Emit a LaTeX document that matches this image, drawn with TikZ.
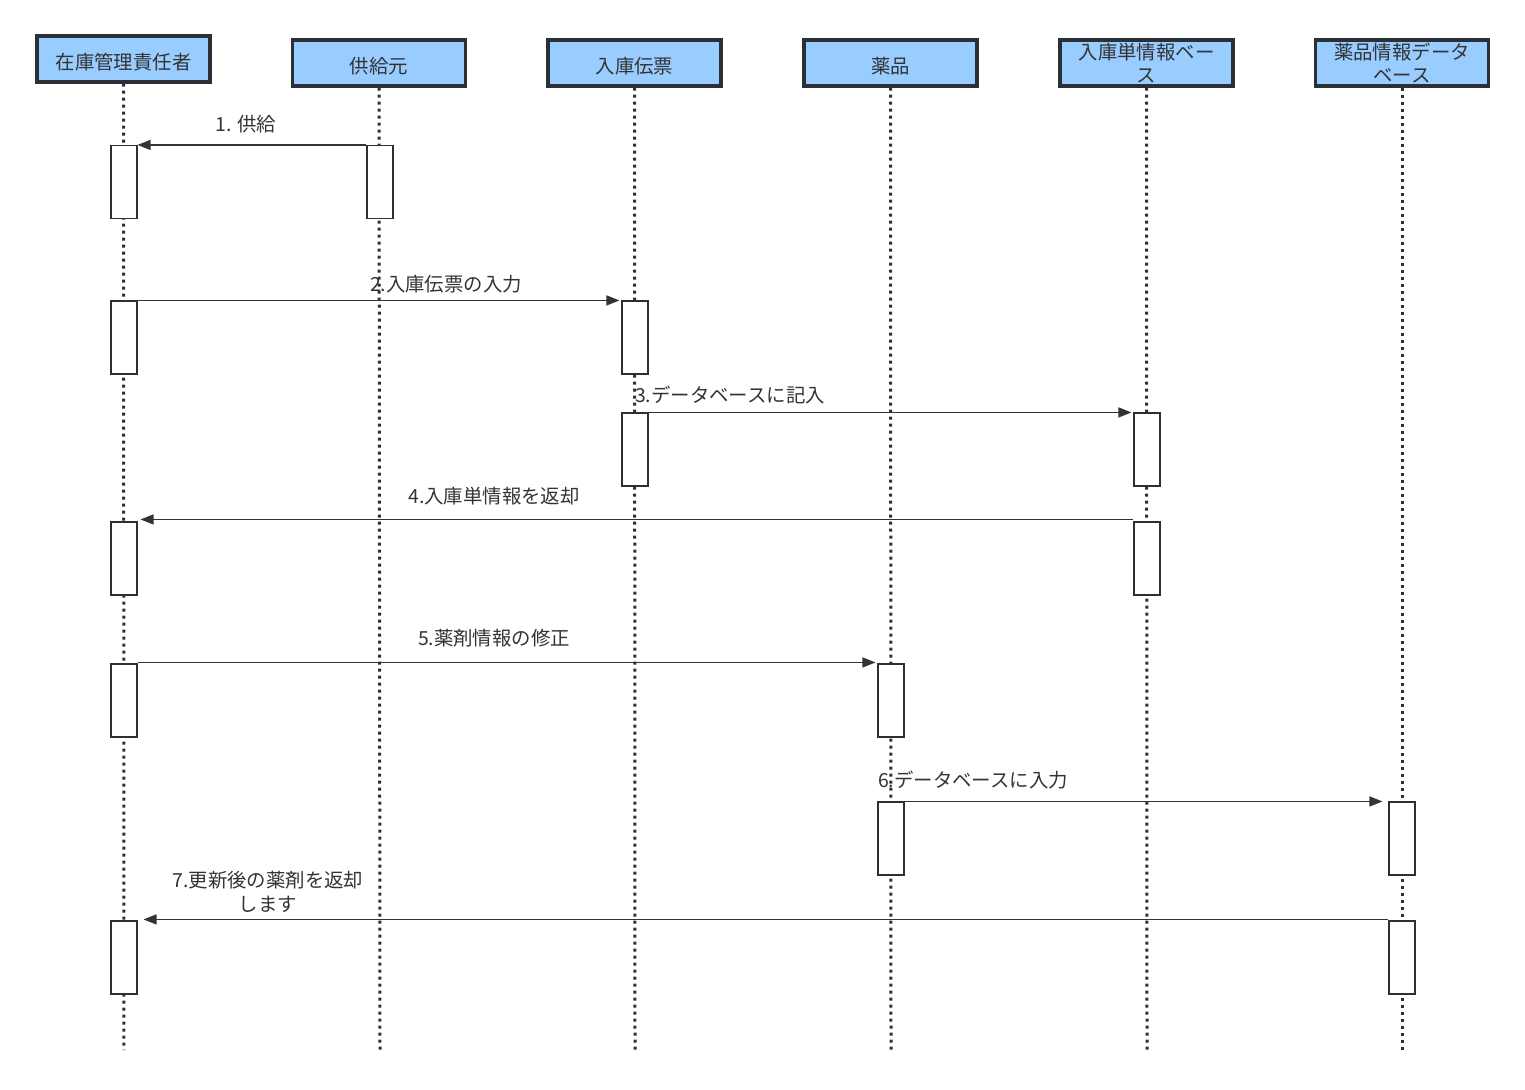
\documentclass[tikz,border=0pt]{standalone}
\usepackage{fontspec}
\setmainfont{Noto Sans CJK JP}
\usepackage{tikz}
\usetikzlibrary{arrows.meta}
\definecolor{headfill}{HTML}{99CCFF}
\definecolor{edge}{HTML}{2B3036}
\definecolor{ink}{HTML}{333333}
\newcommand{\lowhd}[1]{\raisebox{-1.5pt}[\height][\depth]{#1}}

\begin{document}
\begin{tikzpicture}[x=0.5pt,y=-0.5pt,
  hd/.style={draw=edge, line width=1.6pt, fill=headfill,
             minimum width=86.5pt, minimum height=23pt, inner sep=1pt,
             text width=82pt, align=center, text=ink,
             font=\fontsize{9.7}{11.2}\selectfont},
  act/.style={draw=edge, line width=0.55pt, fill=white,
              minimum width=13pt, minimum height=36.5pt, inner sep=0pt},
  life/.style={draw=edge, line width=1.5pt, dash pattern=on 1.5pt off 2pt},
  msg/.style={-{Triangle[length=6.5pt,width=5pt]}, line width=0.7pt,
              color=ink},
  lbl/.style={text=ink, align=center, inner sep=0pt,
              font=\fontsize{9.7}{12}\selectfont}]
  \useasboundingbox (0,0) rectangle (1525,1090);

  % heads
  \node[hd] (mgr)    at (123.5,59) {\lowhd{在庫管理責任者}};
  \node[hd] (sup)    at (379,63)   {\lowhd{供給元}};
  \node[hd] (slip)   at (634.5,63) {\lowhd{入庫伝票}};
  \node[hd] (drug)   at (890.5,63) {\lowhd{薬品}};
  \node[hd] (indb)   at (1146.5,63) {入庫単情報ベー\\ス};
  \node[hd] (drugdb) at (1402,63)  {薬品情報データ\\ベース};

  % lifelines
  \foreach \n/\x in {mgr/124,sup/380,slip/635,drug/891,indb/1147,drugdb/1402}
    {\coordinate (\n-end) at (\x,1050);
     \draw[life] (\n) -- (\n-end);}

  % activations
  \node[act] (a1m) at (124,182)    {};
  \node[act] (a1s) at (380,182)    {};
  \node[act] (a2m) at (124,337.5)  {};
  \node[act] (a2s) at (635,337.5)  {};
  \node[act] (a3s) at (635,449.5)  {};
  \node[act] (a3d) at (1147,449.5) {};
  \node[act] (a4d) at (1147,558.5) {};
  \node[act] (a4m) at (124,558.5)  {};
  \node[act] (a5m) at (124,700.5)  {};
  \node[act] (a5g) at (891,700.5)  {};
  \node[act] (a6g) at (891,838.5)  {};
  \node[act] (a6b) at (1402,838.5) {};
  \node[act] (a7b) at (1402,957.5) {};
  \node[act] (a7m) at (124,957.5)  {};

  % messages
  \draw[msg] (a1s.north west) -- (a1m.north east);
  \draw[msg, shorten >=1pt] (a2m.north east) -- (a2s.north west);
  \draw[msg, shorten >=1pt] (a3s.north west) -- (a3d.north west);
  \draw[msg, shorten >=1.5pt] ([yshift=1pt]a4d.north west) -- ([yshift=1pt]a4m.north east);
  \draw[msg, shorten >=1pt] ([yshift=0.5pt]a5m.north east) -- ([yshift=0.5pt]a5g.north west);
  \draw[msg, shorten >=3pt] (a6g.north east) -- (a6b.north west);
  \draw[msg, shorten >=3pt] ([yshift=0.5pt]a7b.north west) -- ([yshift=0.5pt]a7m.north east);

  \node[lbl] (l1) at (246,124) {1. 供給};
  \node[lbl] (l2) at (446,284) {2.入庫伝票の入力};
  \node[lbl] (l3) at (730,395) {3.データベースに記入};
  \node[lbl] (l4) at (494,496) {4.入庫単情報を返却};
  \node[lbl] (l5) at (494,638) {5.薬剤情報の修正};
  \node[lbl] (l6) at (973,780) {6.データベースに入力};
  \node[lbl] (l7) at (268,892) {7.更新後の薬剤を返却\\します};
\end{tikzpicture}
\end{document}
